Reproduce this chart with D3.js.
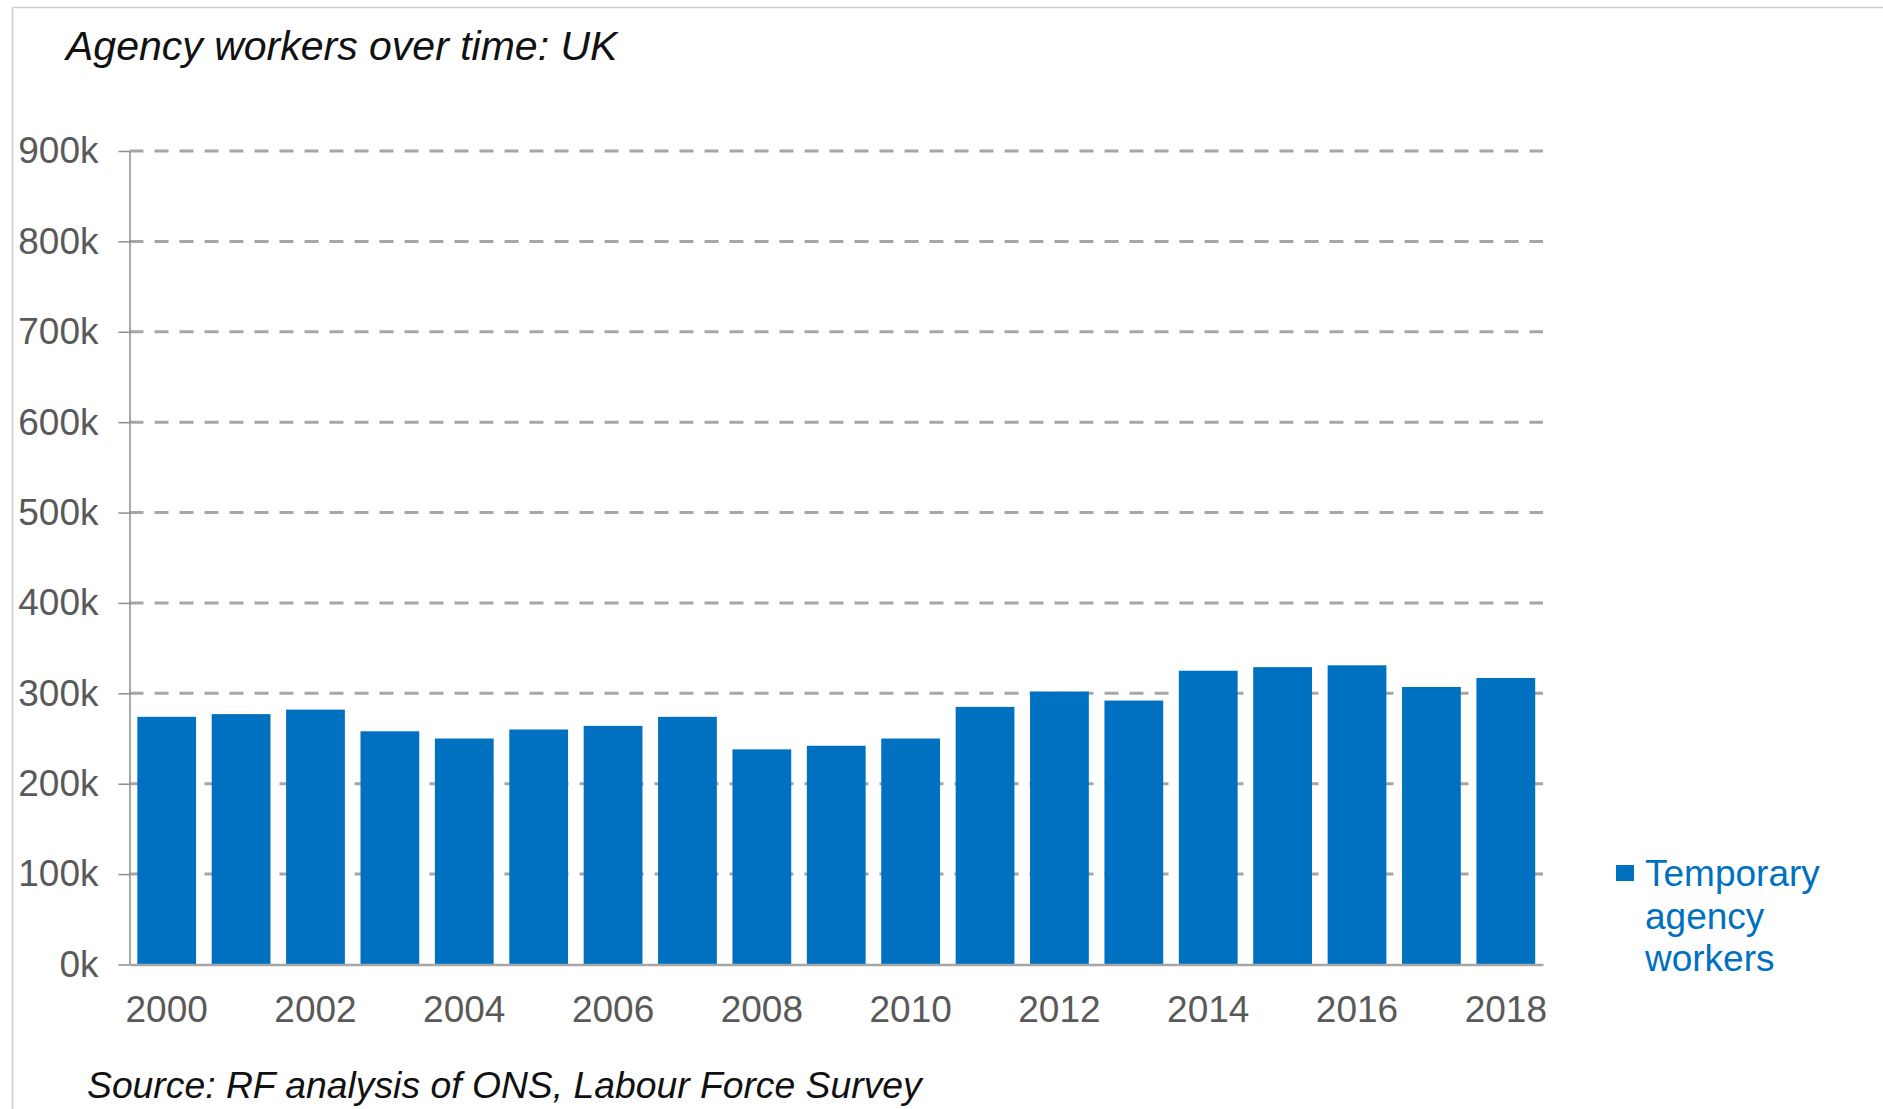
<!DOCTYPE html>
<html>
<head>
<meta charset="utf-8">
<script src="https://cdn.jsdelivr.net/npm/d3@7"></script>
<style>
  html, body { margin: 0; padding: 0; background: #fff; }
  svg { display: block; font-family: "Liberation Sans", Arial, sans-serif; }
</style>
</head>
<body>
<svg id="chart" width="1883" height="1109"></svg>
<script>
// Temporary agency workers in the UK, by year
const years = ["2000","2001","2002","2003","2004","2005","2006","2007","2008","2009",
               "2010","2011","2012","2013","2014","2015","2016","2017","2018"];
const agencyWorkers = [274000, 277000, 282000, 258000, 250000, 260000, 264000, 274000, 238000, 242000,
                       250000, 285000, 302000, 292000, 325000, 329000, 331000, 307000, 317000];
const yTicks = [0, 100000, 200000, 300000, 400000, 500000, 600000, 700000, 800000, 900000];
const xTickLabels = ["2000","2002","2004","2006","2008","2010","2012","2014","2016","2018"];
const legendLines = ["Temporary", "agency", "workers"];

const svg = d3.select("#chart");
const W = 1883, H = 1109;
const plot = { left: 129.5, right: 1543, top: 151, bottom: 964.5 };
const barColor = "#0070C0";
const gridColor = "#a6a6a6";
const labelColor = "#595959";

// outer frame (top and left edges)
svg.append("path")
  .attr("d", `M12.5,${H} L12.5,7.5 L${W},7.5`)
  .attr("fill", "none")
  .attr("stroke", "#cfcfcf")
  .attr("stroke-width", 1.5);

const x = d3.scaleBand()
  .domain(years)
  .range([plot.left, plot.right])
  .paddingInner(0.21)
  .paddingOuter(0.105);

const y = d3.scaleLinear()
  .domain([0, 900000])
  .range([plot.bottom, plot.top]);

// dashed horizontal gridlines
svg.append("g")
  .selectAll("line")
  .data(yTicks.filter(d => d > 0))
  .join("line")
  .attr("x1", plot.left)
  .attr("x2", plot.right)
  .attr("y1", d => y(d))
  .attr("y2", d => y(d))
  .attr("stroke", gridColor)
  .attr("stroke-width", 3)
  .attr("stroke-dasharray", "14,11");

// bars
svg.append("g")
  .selectAll("rect")
  .data(years.map((yr, i) => ({ yr, v: agencyWorkers[i] })))
  .join("rect")
  .attr("x", d => x(d.yr))
  .attr("width", x.bandwidth())
  .attr("y", d => y(d.v))
  .attr("height", d => y(0) - y(d.v))
  .attr("fill", barColor);

// y axis
const yAxis = svg.append("g")
  .attr("transform", `translate(${plot.left},0)`)
  .call(d3.axisLeft(y)
    .tickValues(yTicks)
    .tickFormat(d => (d / 1000) + "k")
    .tickSize(11)
    .tickSizeOuter(0)
    .tickPadding(20));
yAxis.select(".domain").attr("stroke", "#8c8c8c").attr("stroke-width", 1.5);
yAxis.selectAll(".tick line").attr("stroke", "#8c8c8c").attr("stroke-width", 1.5);
yAxis.selectAll(".tick text")
  .attr("fill", labelColor)
  .attr("font-size", 37)
  .attr("font-family", "Liberation Sans, Arial, sans-serif");

// x axis
const xAxis = svg.append("g")
  .attr("transform", `translate(0,${plot.bottom})`)
  .call(d3.axisBottom(x)
    .tickValues(xTickLabels)
    .tickSize(0)
    .tickSizeOuter(0)
    .tickPadding(31));
xAxis.select(".domain").attr("stroke", gridColor).attr("stroke-width", 2.5);
xAxis.selectAll(".tick text")
  .attr("fill", labelColor)
  .attr("font-size", 37)
  .attr("font-family", "Liberation Sans, Arial, sans-serif");

// title
svg.append("text")
  .attr("x", 66)
  .attr("y", 60)
  .attr("font-size", 41)
  .attr("font-style", "italic")
  .attr("fill", "#111")
  .text("Agency workers over time: UK");

// source note
svg.append("text")
  .attr("x", 87)
  .attr("y", 1098)
  .attr("font-size", 37.3)
  .attr("font-style", "italic")
  .attr("fill", "#111")
  .text("Source: RF analysis of ONS, Labour Force Survey");

// legend
const legend = svg.append("g");
legend.append("rect")
  .attr("x", 1616)
  .attr("y", 865)
  .attr("width", 18)
  .attr("height", 16)
  .attr("fill", barColor);
legend.selectAll("text")
  .data(legendLines)
  .join("text")
  .attr("x", 1645)
  .attr("y", (d, i) => 886 + i * 42.5)
  .attr("font-size", 37)
  .attr("fill", barColor)
  .text(d => d);
</script>
</body>
</html>
